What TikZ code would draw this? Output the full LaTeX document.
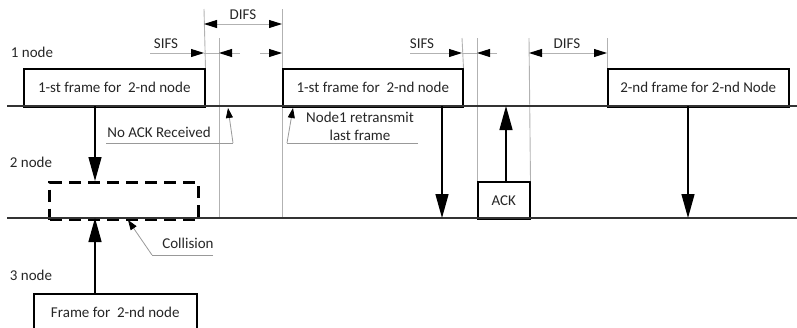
\documentclass[tikz,border=0pt]{standalone}
\usepackage{fontspec}
\setmainfont{Carlito}
\usetikzlibrary{arrows.meta}
\begin{document}
\begin{tikzpicture}[x=1pt,y=-1pt,
  font=\fontsize{15}{18}\selectfont,
  every node/.style={text=black!85},
  timeline/.style={draw=black!80, line width=1.6pt},
  framebox/.style={draw=black, line width=1.5pt, minimum height=38pt, inner sep=0pt, anchor=north west, fill=white},
  guide/.style={draw=black!30, line width=0.9pt},
  bigarrow/.style={draw=black, line width=1.4pt, -{Triangle[length=24pt,width=13pt]}},
  dimarrow/.style={draw=black!30, line width=0.9pt, -{Triangle[length=13pt,width=8pt,color=black]}},
  dimboth/.style={draw=black!30, line width=0.9pt, {Triangle[length=13pt,width=8pt,color=black]}-{Triangle[length=13pt,width=8pt,color=black]}},
  notearrow/.style={draw=black!40, line width=0.8pt, -{Triangle[length=10pt,width=7pt,color=black]}},
  noteline/.style={draw=black!40, line width=0.8pt},
  lbl/.style={inner sep=0pt},
]
\useasboundingbox (0,0) rectangle (797,327);

% timelines
\coordinate (t1a) at (7,106);  \coordinate (t1b) at (797,106);
\coordinate (t2a) at (7,218);  \coordinate (t2b) at (797,218);

% guide coordinates
\coordinate (g1) at (204,9);
\coordinate (g2a) at (219,38);  \coordinate (g2b) at (219,218);
\coordinate (g3a) at (282,9);   \coordinate (g3b) at (282,218);
\coordinate (g4) at (462,38);
\coordinate (g5) at (477,38);
\coordinate (g6) at (529,38);
\coordinate (g7) at (607,38);

% frames
\node[framebox, minimum width=181pt] (f1) at (23,68) {1-st frame for\ \ 2-nd node};
\node[framebox, minimum width=180pt] (f2) at (282,68) {1-st frame for\ \ 2-nd node};
\node[framebox, minimum width=181pt] (f3) at (607,68) {2-nd frame for 2-nd Node};
\node[framebox, minimum width=52pt, minimum height=37pt] (ack) at (477,181) {ACK};
\node[framebox, minimum width=163pt] (f4) at (33,293) {Frame for\ \ 2-nd node};
\node[draw=black, line width=3pt, dash pattern=on 12pt off 7pt, minimum width=149pt, minimum height=37pt, inner sep=0pt, anchor=north west] (coll) at (48,181) {};

% guides
\draw[guide] (g1) -- (f1.north east);
\draw[guide] (g2a) -- (g2b);
\draw[guide] (g3a) -- (f2.north west);
\draw[guide] (f2.south west) -- (g3b);
\draw[guide] (g4) -- (f2.north east);
\draw[guide] (g5) -- (ack.north west);
\draw[guide] (g6) -- (ack.north east);
\draw[guide] (g7) -- (f3.north west);

% timelines drawn
\draw[timeline] (t1a) -- (t1b);
\draw[timeline] (t2a) -- (t2b);

% node labels
\node[lbl] (n1) at (32,52) {1 node};
\node[lbl] (n2) at (31,162) {2 node};
\node[lbl] (n3) at (31,275) {3 node};

% dimension arrows
\coordinate (d1a) at (204,24); \coordinate (d1b) at (282,24);
\draw[dimboth] (d1a) -- (d1b);
\node[lbl] (difs1) at (243,15) {DIFS};

\coordinate (s1a) at (150,53); \coordinate (s1b) at (204,53);
\coordinate (s1c) at (219,53); \coordinate (s1d) at (240,53);
\coordinate (s1e) at (260,53); \coordinate (s1f) at (282,53);
\draw[dimarrow] (s1a) -- (s1b);
\draw[guide] (s1b) -- (s1c);
\draw[dimarrow] (s1d) -- (s1c);
\draw[dimarrow] (s1e) -- (s1f);
\node[lbl] (sifs1) at (166,44) {SIFS};

\coordinate (s2a) at (410,53); \coordinate (s2b) at (462,53);
\coordinate (s2c) at (477,53); \coordinate (s2d) at (497,53);
\draw[dimarrow] (s2a) -- (s2b);
\draw[guide] (s2b) -- (s2c);
\draw[dimarrow] (s2d) -- (s2c);
\node[lbl] (sifs2) at (422,44) {SIFS};

\coordinate (d2a) at (529,53); \coordinate (d2b) at (607,53);
\draw[dimboth] (d2a) -- (d2b);
\node[lbl] (difs2) at (567,44) {DIFS};

% big arrows
\coordinate (b1a) at (95,106); \coordinate (b1b) at (95,181);
\draw[bigarrow] (b1a) -- (b1b);
\coordinate (b2a) at (95,293); \coordinate (b2b) at (95,218);
\draw[bigarrow] (b2a) -- (b2b);
\coordinate (b3a) at (442,106); \coordinate (b3b) at (442,218);
\draw[bigarrow] (b3a) -- (b3b);
\coordinate (b4a) at (506,181); \coordinate (b4b) at (506,106);
\draw[bigarrow] (b4a) -- (b4b);
\coordinate (b5a) at (688,106); \coordinate (b5b) at (688,218);
\draw[bigarrow] (b5a) -- (b5b);

% notes
\node[lbl] (noack) at (159,132) {No ACK Received};
\coordinate (na1) at (106,143); \coordinate (na2) at (233,143); \coordinate (na3) at (228,108);
\draw[noteline] (na1) -- (na2);
\draw[notearrow] (na2) -- (na3);

\node[lbl, align=center] (retx) at (360,126) {Node1 retransmit\\last frame};
\coordinate (rt1) at (418,143); \coordinate (rt2) at (287,143); \coordinate (rt3) at (293,108);
\draw[noteline] (rt1) -- (rt2);
\draw[notearrow] (rt2) -- (rt3);

\node[lbl] (colltxt) at (188,243) {Collision};
\coordinate (cl1) at (213,255); \coordinate (cl2) at (152,255); \coordinate (cl3) at (128,220);
\draw[noteline] (cl1) -- (cl2);
\draw[notearrow] (cl2) -- (cl3);
\end{tikzpicture}
\end{document}
